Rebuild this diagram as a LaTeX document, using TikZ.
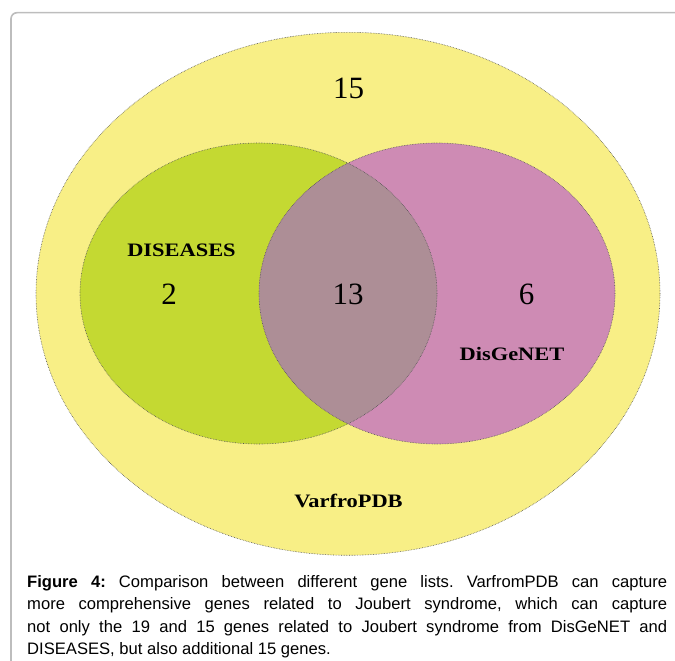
\documentclass[tikz,border=0pt]{standalone}
\usepackage{fontspec}
\setmainfont{Liberation Serif}
\newfontfamily\capfont{Liberation Sans}
\definecolor{vyellow}{HTML}{F8EF86}
\definecolor{vgreen}{HTML}{C4D932}
\definecolor{vpink}{HTML}{CE8BB4}
\definecolor{vlens}{HTML}{AD8E96}
\definecolor{vedge}{HTML}{555555}
\definecolor{vframe}{HTML}{BDBDBD}
\tikzset{
  setedge/.style={draw=vedge, densely dotted, line width=0.6pt},
  numlabel/.style={anchor=base, inner sep=0pt, font=\fontsize{31}{31}\selectfont},
  setlabel/.style={anchor=base, inner sep=0pt, font=\fontsize{19}{19}\selectfont\bfseries},
  capline/.style={anchor=base west, inner sep=0pt, font=\capfont\fontsize{16.6}{16.6}\selectfont\frenchspacing},
}
\begin{document}
\begin{tikzpicture}[x=1pt, y=-1pt]
\useasboundingbox (0,0) rectangle (675,661);
\clip (0,0) rectangle (675,661);
% frame
\draw[vframe, line width=1.6pt, rounded corners=6pt] (11,12.7) rectangle (700,700);
% outer set
\coordinate (outerc) at (348,293.8);
\coordinate (leftc) at (258.5,293.5);
\coordinate (rightc) at (437,293.5);
\fill[vyellow] (outerc) ellipse [x radius=312, y radius=261.5];
\draw[setedge] (outerc) ellipse [x radius=312, y radius=261.5];
\fill[vgreen] (leftc) ellipse [x radius=178.5, y radius=150.5];
\fill[vpink] (rightc) ellipse [x radius=178, y radius=150.5];
\begin{scope}
  \clip (leftc) ellipse [x radius=178.5, y radius=150.5];
  \fill[vlens] (rightc) ellipse [x radius=178, y radius=150.5];
\end{scope}
\draw[setedge] (leftc) ellipse [x radius=178.5, y radius=150.5];
\draw[setedge] (rightc) ellipse [x radius=178, y radius=150.5];
% numbers
\node[numlabel] (n15) at (348.5,99) {15};
\node[numlabel] (n2) at (169,304) {2};
\node[numlabel] (n13) at (348,304) {13};
\node[numlabel] (n6) at (526.5,304) {6};
% set names
\node[setlabel] (ldis) at (181.5,256.7) {\scalebox{1.18}[1]{DISEASES}};
\node[setlabel] (lgen) at (512,360) {\scalebox{1.18}[1]{DisGeNET}};
\node[setlabel] (lvar) at (348.5,507.3) {\scalebox{1.18}[1]{VarfroPDB}};
% caption
\node[capline] (c1) at (27,587) {\makebox[640pt][s]{\textbf{Figure 4:} Comparison between different gene lists. VarfromPDB can capture}};
\node[capline] (c2) at (27,609.5) {\makebox[640pt][s]{more comprehensive genes related to Joubert syndrome, which can capture}};
\node[capline] (c3) at (27,632) {\makebox[640pt][s]{not only the 19 and 15 genes related to Joubert syndrome from DisGeNET and}};
\node[capline] (c4) at (27,654.5) {DISEASES, but also additional 15 genes.};
\end{tikzpicture}
\end{document}
